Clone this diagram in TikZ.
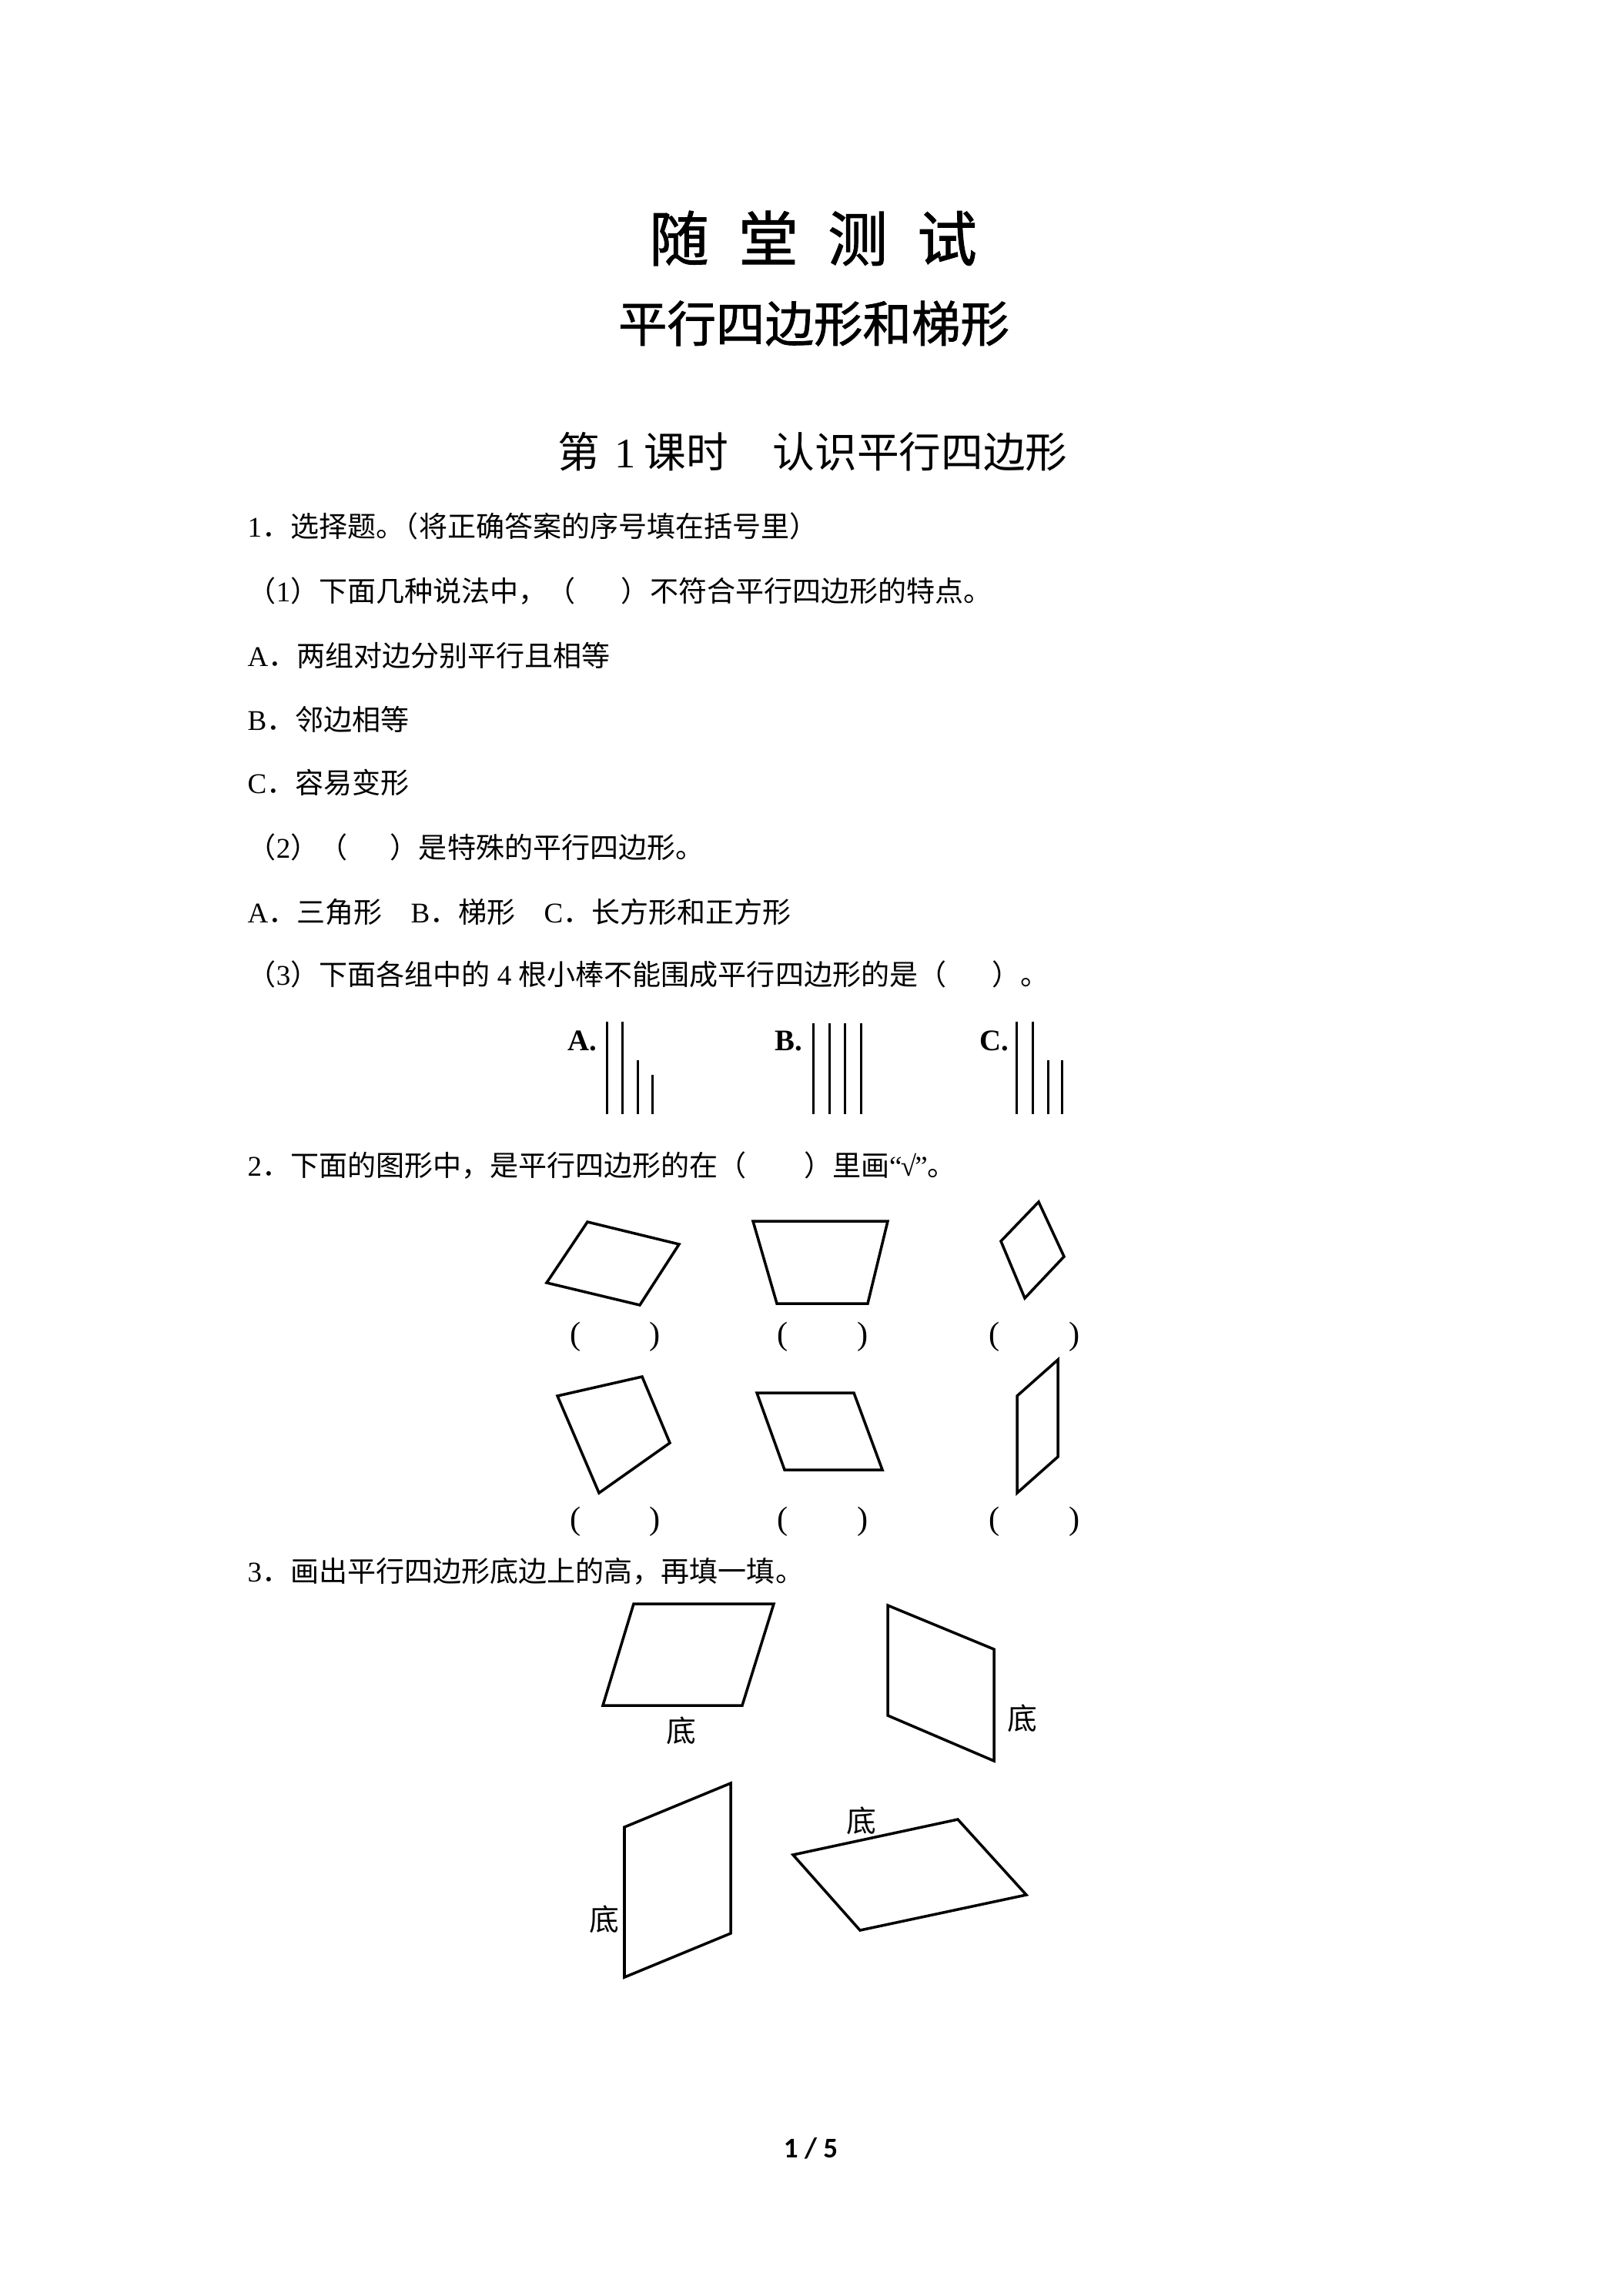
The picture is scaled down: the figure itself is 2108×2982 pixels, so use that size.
\documentclass[tikz,border=0pt]{standalone}
\usepackage{fontspec}
\setmainfont{Liberation Serif}
\newfontfamily\cjk{Noto Sans CJK SC}
\newfontfamily\cjkh{Noto Sans CJK SC}[FakeBold=1.2]
\newfontfamily\pgnum{Carlito}
\begin{document}
\begin{tikzpicture}[x=0.099620mm,y=-0.099620mm,
  body/.style={anchor=base west,inner sep=0pt,font=\fontsize{10.5}{12}\selectfont},
  lesson/.style={anchor=base west,inner sep=0pt,font=\fontsize{15.5}{19}\selectfont},
  paren/.style={anchor=base,inner sep=0pt,font=\fontsize{12}{14}\selectfont},
  stick/.style={line width=0.85pt},
  quad/.style={line width=1pt,line join=miter},
  lbl/.style={inner sep=0pt,font=\cjk\fontsize{11}{13}\selectfont},
  sticklbl/.style={anchor=base west,inner sep=0pt,font=\bfseries\fontsize{11}{13}\selectfont}]
\useasboundingbox (0,0) rectangle (2108,2982);
\fill[white] (0,0) rectangle (2108,2982);

% titles
\node[anchor=base,inner sep=0pt,font=\cjkh\fontsize{22}{26}\selectfont] (title) at (1056,339) {随\hspace{10.9pt}堂\hspace{10.9pt}测\hspace{10.9pt}试};
\node[anchor=base,inner sep=0pt,font=\cjkh\fontsize{18}{22}\selectfont] (subtitle) at (1057,444) {平行四边形和梯形};
\node[lesson] (la) at (724,607) {\cjk 第};
\node[lesson] (lb) at (798,607) {1};
\node[lesson] (lc) at (836,607) {\cjk 课时};
\node[lesson] (ld) at (1003,607) {\cjk 认识平行四边形};

% question 1
\node[body] (q1) at (321,697) {1{\cjk ．选择题。\kern-0.5em（将正确答案的序号填在括号里）}};
\node[body] (q11) at (321,781) {{\cjk （}1{\cjk ）下面几种说法中，（\hspace{1.6em}）不符合平行四边形的特点。}};
\node[body] (q11a) at (321,865) {A{\cjk ．两组对边分别平行且相等}};
\node[body] (q11b) at (321,948) {B{\cjk ．邻边相等}};
\node[body] (q11c) at (321,1030) {C{\cjk ．容易变形}};
\node[body] (q12) at (321,1114) {{\cjk （}2{\cjk ）（\hspace{1.5em}）是特殊的平行四边形。}};
\node[body] (q12o) at (321,1198) {A{\cjk ．三角形　}B{\cjk ．梯形　}C{\cjk ．长方形和正方形}};
\node[body] (q13) at (321,1279) {{\cjk （}3{\cjk ）下面各组中的} 4 {\cjk 根小棒不能围成平行四边形的是（\hspace{1.6em}）。}};

% sticks
\node[sticklbl] (sa) at (737,1364) {A.};
\node[sticklbl] (sb) at (1006,1364) {B.};
\node[sticklbl] (sc) at (1272,1364) {C.};
\draw[stick] (788,1327) -- (788,1447);
\draw[stick] (808,1327) -- (808,1447);
\draw[stick] (828,1377) -- (828,1447);
\draw[stick] (847,1396) -- (847,1447);
\draw[stick] (1056,1329) -- (1056,1447);
\draw[stick] (1077,1329) -- (1077,1447);
\draw[stick] (1097,1329) -- (1097,1447);
\draw[stick] (1118,1329) -- (1118,1447);
\draw[stick] (1320,1327) -- (1320,1447);
\draw[stick] (1341,1327) -- (1341,1447);
\draw[stick] (1361,1377) -- (1361,1447);
\draw[stick] (1379,1377) -- (1379,1447);

% question 2
\node[body] (q2) at (321,1527) {2{\cjk ．下面的图形中，是平行四边形的在（\hspace{2em}）里画}“\kern-0.05em√\kern-0.05em”{\cjk 。}};
\draw[quad] (763,1587) -- (882,1616) -- (831,1695) -- (710,1666) -- cycle;
\draw[quad] (978,1586) -- (1153,1586) -- (1127,1693) -- (1009,1693) -- cycle;
\draw[quad] (1349,1561) -- (1382,1632) -- (1331,1686) -- (1300,1612) -- cycle;
\draw[quad] (724,1813) -- (834,1788) -- (870,1874) -- (778,1939) -- cycle;
\draw[quad] (983,1809) -- (1109,1809) -- (1146,1909) -- (1019,1909) -- cycle;
\draw[quad] (1321,1813) -- (1374,1766) -- (1374,1892) -- (1321,1939) -- cycle;
\node[paren] (p1l) at (748,1746) {(};
\node[paren] (p1r) at (851,1746) {)};
\node[paren] (p2l) at (1017,1746) {(};
\node[paren] (p2r) at (1121,1746) {)};
\node[paren] (p3l) at (1292,1746) {(};
\node[paren] (p3r) at (1396,1746) {)};
\node[paren] (p4l) at (748,1986) {(};
\node[paren] (p4r) at (851,1986) {)};
\node[paren] (p5l) at (1017,1986) {(};
\node[paren] (p5r) at (1121,1986) {)};
\node[paren] (p6l) at (1292,1986) {(};
\node[paren] (p6r) at (1396,1986) {)};

% question 3
\node[body] (q3) at (321,2054) {3{\cjk ．画出平行四边形底边上的高，再填一填。}};
\draw[quad] (823,2083) -- (1005,2083) -- (964,2215) -- (783,2215) -- cycle;
\draw[quad] (1153,2085) -- (1291,2142) -- (1291,2287) -- (1153,2228) -- cycle;
\draw[quad] (811,2373) -- (949,2316) -- (949,2511) -- (811,2568) -- cycle;
\draw[quad] (1030,2409) -- (1244,2363) -- (1333,2461) -- (1117,2507) -- cycle;
\node[lbl] (d1) at (885,2248) {底};
\node[lbl] (d2) at (1328,2232) {底};
\node[lbl] (d3) at (785,2493) {底};
\node[lbl] (d4) at (1119,2365) {底};

% page number
\node[anchor=base,inner sep=0pt,font=\pgnum\bfseries\fontsize{10.5}{12}\selectfont] (pg) at (1053,2802) {1 / 5};
\end{tikzpicture}
\end{document}
